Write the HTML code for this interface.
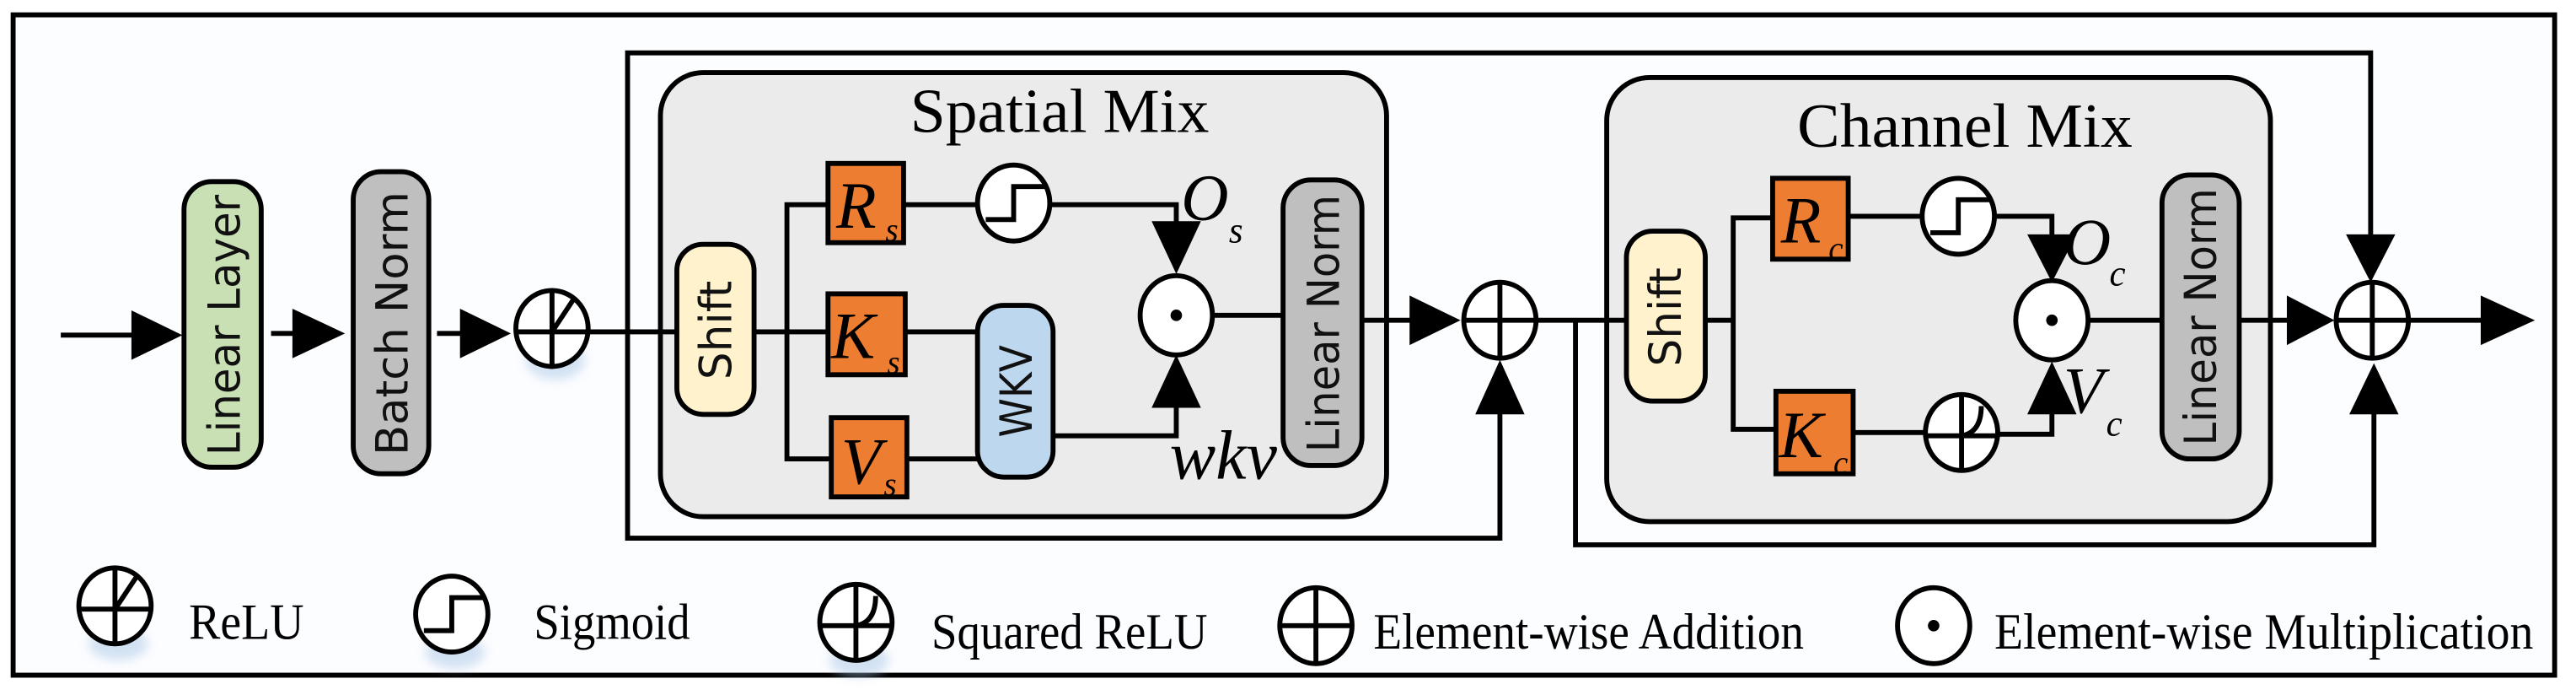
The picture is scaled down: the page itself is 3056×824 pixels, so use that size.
<!DOCTYPE html>
<html><head><meta charset="utf-8"><style>html,body{margin:0;padding:0;background:#fff}svg{display:block}</style></head>
<body>
<svg width="3056" height="824" viewBox="0 0 1568 421" preserveAspectRatio="none" xmlns="http://www.w3.org/2000/svg">
<defs>
<filter id="sh" x="-50%" y="-50%" width="200%" height="200%"><feGaussianBlur stdDeviation="3"/></filter>
</defs>
<rect x="0" y="0" width="1568" height="421" fill="#fff"/>
<rect x="8" y="9" width="1547" height="400" fill="#fcfdff" stroke="#000" stroke-width="3"/>

<!-- faint shadows -->
<g fill="#a9c6e6" opacity="0.5" filter="url(#sh)">
<ellipse cx="338" cy="218" rx="18" ry="12"/>
<ellipse cx="620" cy="142" rx="18" ry="12"/>
<ellipse cx="1196" cy="150" rx="18" ry="12"/>
<ellipse cx="1198" cy="282" rx="18" ry="12"/>
<ellipse cx="72" cy="390" rx="18" ry="10"/>
<ellipse cx="277" cy="395" rx="18" ry="10"/>
<ellipse cx="523" cy="400" rx="18" ry="10"/>
</g>

<!-- residual loops -->
<g fill="none" stroke="#000" stroke-width="3">
<polyline points="1443,165 1443,32 382,32 382,326 913,326 913,245"/>
<polyline points="959,194 959,330 1445,330 1445,250"/>
</g>

<!-- Spatial Mix box -->
<rect x="402" y="44" width="442" height="269" rx="26" fill="#ebebeb" stroke="#000" stroke-width="3"/>
<text x="645" y="80" font-family="Liberation Serif, serif" font-size="38" text-anchor="middle" textLength="182" lengthAdjust="spacingAndGlyphs">Spatial Mix</text>
<!-- Channel Mix box -->
<rect x="978" y="47" width="404" height="269" rx="26" fill="#ebebeb" stroke="#000" stroke-width="3"/>
<text x="1196" y="89" font-family="Liberation Serif, serif" font-size="38" text-anchor="middle" textLength="204" lengthAdjust="spacingAndGlyphs">Channel Mix</text>

<!-- main lines -->
<g fill="none" stroke="#000" stroke-width="3">
<line x1="37" y1="203" x2="85" y2="203"/>
<line x1="165" y1="202" x2="185" y2="202"/>
<line x1="266" y1="202" x2="290" y2="202"/>
<line x1="358" y1="201" x2="413" y2="201"/>
<polyline points="504,124 479,124 479,278 506,278"/>
<line x1="459" y1="201" x2="504" y2="201"/>
<line x1="550" y1="124" x2="596" y2="124"/>
<polyline points="639,124 716,124 716,140"/>
<line x1="551" y1="201" x2="595" y2="201"/>
<line x1="552" y1="278" x2="595" y2="278"/>
<polyline points="641,264 716,264 716,240"/>
<line x1="739" y1="191" x2="781" y2="191"/>
<line x1="829" y1="194" x2="865" y2="194"/>
<line x1="936" y1="194" x2="991" y2="194"/>
<polyline points="1079,132 1055,132 1055,260 1081,260"/>
<line x1="1038" y1="194" x2="1055" y2="194"/>
<line x1="1125" y1="131" x2="1170" y2="131"/>
<polyline points="1214,131 1249,131 1249,145"/>
<line x1="1128" y1="262" x2="1172" y2="262"/>
<polyline points="1216,263 1249,263 1249,245"/>
<line x1="1272" y1="194" x2="1316" y2="194"/>
<line x1="1363" y1="194" x2="1398" y2="194"/>
<line x1="1467" y1="194" x2="1515" y2="194"/>
</g>

<!-- arrowheads -->
<g fill="#000">
<polygon points="80,188 111,203 80,218"/>
<polygon points="178,187 210,202 178,217"/>
<polygon points="280,187 311,202 280,217"/>
<polygon points="701,134 731,134 716,166"/>
<polygon points="701,247 731,247 716,215"/>
<polygon points="858,179 889,194 858,209"/>
<polygon points="898,251 928,251 913,218"/>
<polygon points="1234,142 1264,142 1249,171"/>
<polygon points="1234,251 1264,251 1249,219"/>
<polygon points="1392,179 1421,194 1392,209"/>
<polygon points="1428,142 1458,142 1443,171"/>
<polygon points="1430,251 1460,251 1445,220"/>
<polygon points="1510,179 1543,194 1510,209"/>
</g>

<!-- vertical boxes -->
<g stroke="#000" stroke-width="3">
<rect x="112" y="110" width="47" height="173" rx="17" fill="#c8e0b4"/>
<rect x="215" y="104" width="46" height="183" rx="17" fill="#bfbfbf"/>
<rect x="412" y="148" width="47" height="103" rx="16" fill="#fff2cc"/>
<rect x="595" y="185" width="46" height="104" rx="16" fill="#bdd7ee"/>
<rect x="781" y="109" width="48" height="173" rx="17" fill="#bfbfbf"/>
<rect x="990" y="140" width="48" height="103" rx="16" fill="#fff2cc"/>
<rect x="1316" y="106" width="47" height="172" rx="17" fill="#bfbfbf"/>
</g>
<g font-family="DejaVu Sans, sans-serif" font-size="27" fill="#111" text-anchor="middle">
<text transform="translate(146,197) rotate(-90)" textLength="158" lengthAdjust="spacingAndGlyphs">Linear Layer</text>
<text transform="translate(248,196) rotate(-90)" textLength="160" lengthAdjust="spacingAndGlyphs">Batch Norm</text>
<text transform="translate(445,200) rotate(-90)" textLength="60" lengthAdjust="spacingAndGlyphs">Shift</text>
<text transform="translate(628,237) rotate(-90)" textLength="56" lengthAdjust="spacingAndGlyphs">WKV</text>
<text transform="translate(815,196) rotate(-90)" textLength="156" lengthAdjust="spacingAndGlyphs">Linear Norm</text>
<text transform="translate(1023,192) rotate(-90)" textLength="60" lengthAdjust="spacingAndGlyphs">Shift</text>
<text transform="translate(1349,192) rotate(-90)" textLength="156" lengthAdjust="spacingAndGlyphs">Linear Norm</text>
</g>

<!-- orange boxes -->
<g stroke="#000" stroke-width="3" fill="#ed7d31">
<rect x="504" y="99" width="46" height="48"/>
<rect x="504" y="178" width="47" height="49"/>
<rect x="506" y="253" width="46" height="48"/>
<rect x="1079" y="108" width="46" height="49"/>
<rect x="1081" y="237" width="47" height="50"/>
</g>
<g font-family="Liberation Serif, serif" font-style="italic" fill="#000">
<text x="509" y="138" font-size="40">R</text><text x="539" y="146" font-size="20">s</text>
<text x="506" y="217" font-size="40">K</text><text x="540" y="226" font-size="20">s</text>
<text x="512" y="293" font-size="40">V</text><text x="538" y="300" font-size="20">s</text>
<text x="1084" y="147" font-size="40">R</text><text x="1113" y="157" font-size="20">c</text>
<text x="1083" y="277" font-size="40">K</text><text x="1116" y="287" font-size="20">c</text>
<text x="719" y="133" font-size="40">O</text><text x="748" y="147" font-size="22">s</text>
<text x="712" y="290" font-size="42">wkv</text>
<text x="1256" y="160" font-size="40">O</text><text x="1284" y="173" font-size="22">c</text>
<text x="1256" y="250" font-size="40">V</text><text x="1282" y="264" font-size="22">c</text>
</g>

<!-- operator circles -->
<g fill="#fff" stroke="#000" stroke-width="3">
<ellipse cx="336" cy="199" rx="22" ry="23"/>
<ellipse cx="617" cy="123" rx="22" ry="23"/>
<ellipse cx="716" cy="191" rx="22" ry="24"/>
<ellipse cx="913" cy="194" rx="22" ry="23"/>
<ellipse cx="1192" cy="131" rx="22" ry="23"/>
<ellipse cx="1194" cy="262" rx="22" ry="23"/>
<ellipse cx="1249" cy="194" rx="22" ry="24"/>
<ellipse cx="1444" cy="194" rx="22" ry="23"/>
<ellipse cx="70" cy="367" rx="22" ry="23"/>
<ellipse cx="275" cy="372" rx="22" ry="23"/>
<ellipse cx="521" cy="377" rx="22" ry="23"/>
<ellipse cx="801" cy="379" rx="22" ry="23"/>
<ellipse cx="1177" cy="379" rx="22" ry="23"/>
</g>
<g fill="none" stroke="#000" stroke-width="3">
<path d="M314,201 H358 M336,176 V222 M336,201 L350,180"/>
<path d="M48,369 H92 M70,344 V390 M70,369 L84,348"/>
<path d="M600,133 H617 V113 H636"/>
<path d="M1175,141 H1192 V121 H1211"/>
<path d="M258,382 H275 V362 H294"/>
<path d="M1172,264 H1216 M1194,239 V285 M1194,264 Q1206,262 1206,246"/>
<path d="M499,379 H543 M521,354 V400 M521,379 Q533,377 533,361"/>
<path d="M891,194 H935 M913,171 V217"/>
<path d="M1422,194 H1466 M1444,171 V217"/>
<path d="M779,379 H823 M801,356 V402"/>
</g>
<g fill="#000">
<circle cx="716" cy="191" r="3.5"/>
<circle cx="1249" cy="194" r="3.5"/>
<circle cx="1177" cy="379" r="3.5"/>
</g>

<!-- legend labels -->
<g font-family="Liberation Serif, serif" font-size="31" fill="#000">
<text x="115" y="387" textLength="70" lengthAdjust="spacingAndGlyphs">ReLU</text>
<text x="325" y="387" textLength="95" lengthAdjust="spacingAndGlyphs">Sigmoid</text>
<text x="567" y="393" textLength="168" lengthAdjust="spacingAndGlyphs">Squared ReLU</text>
<text x="836" y="393" textLength="262" lengthAdjust="spacingAndGlyphs">Element-wise Addition</text>
<text x="1214" y="393" textLength="328" lengthAdjust="spacingAndGlyphs">Element-wise Multiplication</text>
</g>
</svg>
</body></html>
